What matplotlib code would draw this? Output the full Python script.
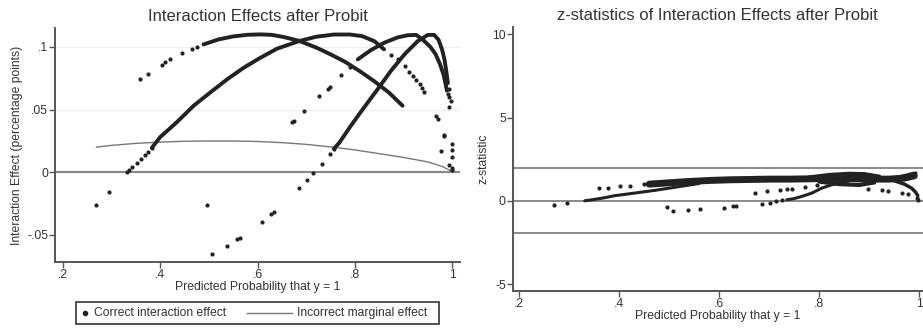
import matplotlib
matplotlib.use("Agg")
import matplotlib.pyplot as plt
from matplotlib.lines import Line2D
from matplotlib.patches import Rectangle

plt.rcParams['font.family'] = ['Liberation Sans', 'DejaVu Sans']

# ---- left panel: interaction effect vs predicted probability ----
# sparse dots
dots_x = [0.269, 0.295, 0.331, 0.336, 0.342, 0.352, 0.360, 0.369, 0.376, 0.383,
          0.359, 0.376, 0.403, 0.410, 0.421, 0.445, 0.465, 0.476,
          0.874, 0.888, 0.902, 0.912, 0.919, 0.926, 0.933, 0.938, 0.943,
          0.671, 0.675, 0.695, 0.726, 0.744, 0.748, 0.771, 0.790,
          0.496, 0.507, 0.538, 0.558, 0.564, 0.610, 0.628, 0.634, 0.685, 0.701,
          0.713, 0.732, 0.748, 0.757,
          0.994, 0.998, 0.994, 0.967, 0.970, 0.984, 1.000, 1.000, 1.000, 0.994,
          0.999, 1.000, 0.976, 0.983, 0.991, 0.993]
dots_y = [-0.0261, -0.0156, 0.0000, 0.0020, 0.0045, 0.0074, 0.0105, 0.0135, 0.0165, 0.0195,
          0.0740, 0.0782, 0.0856, 0.0882, 0.0905, 0.0950, 0.0984, 0.1000,
          0.0935, 0.0900, 0.0847, 0.0800, 0.0768, 0.0735, 0.0703, 0.0670, 0.0636,
          0.0398, 0.0412, 0.0491, 0.0604, 0.0663, 0.0683, 0.0774, 0.0840,
          -0.0261, -0.0652, -0.0586, -0.0533, -0.0525, -0.0398, -0.0333, -0.0314, -0.0129, -0.0063,
          -0.0010, 0.0069, 0.0143, 0.0188,
          0.0596, 0.0570, 0.0517, 0.0451, 0.0425, 0.0293, 0.0227, 0.0174, 0.0121, 0.0055,
          0.0030, 0.0016, 0.0166, 0.0288, 0.0620, 0.0660]

# dense runs of points (look like thick curves)
curve_a_x = [0.489, 0.52, 0.55, 0.58, 0.606, 0.63, 0.654, 0.685, 0.72, 0.75, 0.78, 0.81, 0.84, 0.87, 0.898]
curve_a_y = [0.1019, 0.1059, 0.1083, 0.1096, 0.1099, 0.1095, 0.1078, 0.1048, 0.0995, 0.0940, 0.0880, 0.0806, 0.0725, 0.0635, 0.0530]

curve_b_x = [0.383, 0.40, 0.434, 0.469, 0.503, 0.538, 0.572, 0.606, 0.64, 0.685, 0.72, 0.757, 0.79, 0.815, 0.84, 0.86]
curve_b_y = [0.0195, 0.0280, 0.0398, 0.0531, 0.0636, 0.0742, 0.0834, 0.0913, 0.0985, 0.1045, 0.1080, 0.1098, 0.1098, 0.1085, 0.1045, 0.0980]

curve_c_x = [0.806, 0.833, 0.86, 0.888, 0.908, 0.926, 0.94, 0.955, 0.966, 0.975, 0.982, 0.986, 0.989]
curve_c_y = [0.0900, 0.0974, 0.1032, 0.1075, 0.1092, 0.1095, 0.1055, 0.1000, 0.0940, 0.0860, 0.0780, 0.0710, 0.0650]

curve_d_x = [0.757, 0.768, 0.792, 0.819, 0.847, 0.874, 0.902, 0.929, 0.95, 0.963, 0.972, 0.979, 0.984, 0.988, 0.991]
curve_d_y = [0.0188, 0.0235, 0.0372, 0.0517, 0.0663, 0.0808, 0.0940, 0.1045, 0.1095, 0.1095, 0.1055, 0.0980, 0.0900, 0.0800, 0.0710]

# incorrect marginal effect
marg_x = [0.269, 0.30, 0.35, 0.40, 0.45, 0.50, 0.55, 0.60, 0.65, 0.70, 0.75, 0.80, 0.85, 0.90, 0.95, 0.98, 1.0]
marg_y = [0.0200, 0.0214, 0.0230, 0.0240, 0.0247, 0.0249, 0.0249, 0.0245, 0.0236, 0.0222, 0.0202, 0.0178, 0.0148, 0.0118, 0.0082, 0.0045, 0.0005]

# ---- right panel: z-statistics ----
zdots_x = [0.269, 0.296, 0.360, 0.378, 0.401, 0.421, 0.449, 0.495, 0.507, 0.537, 0.561,
           0.610, 0.628, 0.634, 0.671, 0.695, 0.721, 0.735, 0.745, 0.771, 0.795,
           0.685, 0.701, 0.713, 0.725,
           0.898, 0.925, 0.938, 0.965, 0.978, 0.995, 0.998]
zdots_y = [-0.24, -0.16, 0.74, 0.76, 0.90, 0.90, 0.98, -0.40, -0.60, -0.54, -0.50,
           -0.42, -0.34, -0.30, 0.44, 0.56, 0.62, 0.70, 0.70, 0.82, 0.96,
           -0.20, -0.12, -0.04, 0.04,
           0.70, 0.62, 0.56, 0.46, 0.42, 0.16, 0.06]

zlow_x = [0.331, 0.35, 0.37, 0.39, 0.41, 0.43, 0.45, 0.47, 0.50, 0.53, 0.56]
zlow_y = [0.00, 0.08, 0.18, 0.30, 0.38, 0.46, 0.54, 0.62, 0.76, 0.90, 1.04]

zband_x = [0.46, 0.50, 0.54, 0.58, 0.62, 0.66, 0.70, 0.74, 0.78, 0.82, 0.86, 0.90, 0.94, 0.97, 0.99]
zband_y = [1.00, 1.08, 1.16, 1.22, 1.26, 1.28, 1.30, 1.30, 1.32, 1.34, 1.34, 1.30, 1.30, 1.36, 1.50]

zup_x = [0.78, 0.82, 0.86, 0.89, 0.92]
zup_y = [1.40, 1.55, 1.62, 1.60, 1.45]
zdown_x = [0.80, 0.84, 0.88, 0.91]
zdown_y = [1.15, 1.00, 0.95, 1.10]
zfan_top_x = [0.95, 0.97, 0.985, 0.993]
zfan_top_y = [1.38, 1.50, 1.62, 1.66]
zfan_bot_x = [0.95, 0.97, 0.985, 0.993, 0.997]
zfan_bot_y = [1.20, 1.00, 0.75, 0.50, 0.30]

zrise_x = [0.735, 0.748, 0.765, 0.785, 0.805, 0.825, 0.845, 0.86]
zrise_y = [0.06, 0.12, 0.26, 0.46, 0.76, 0.96, 1.10, 1.20]

xticks = [0.2, 0.4, 0.6, 0.8, 1.0]
xtick_labels = ['.2', '.4', '.6', '.8', '1']
left_yticks = [-0.05, 0, 0.05, 0.1]
left_ytick_labels = ['-.05', '0', '.05', '.1']
right_yticks = [-5, 0, 5, 10]
right_ytick_labels = ['-5', '0', '5', '10']
legend_labels = ['Correct interaction effect', 'Incorrect marginal effect']

DOT = '#222222'
TXT = '#333333'
AX = '#555555'
FS = 8.7

fig = plt.figure(figsize=(9.23, 3.29), dpi=100)
ax1 = fig.add_axes([0.0596, 0.2036, 0.4388, 0.7113])
ax2 = fig.add_axes([0.5555, 0.1155, 0.4445, 0.8025])

for ax in (ax1, ax2):
    for s in ('top', 'right'):
        ax.spines[s].set_visible(False)
    for s in ('left', 'bottom'):
        ax.spines[s].set_color(AX)
        ax.spines[s].set_linewidth(1.4)
    ax.tick_params(colors=AX, labelcolor=TXT, labelsize=FS, length=4, width=1, pad=1)
    ax.set_xticks(xticks)
    ax.set_xticklabels(xtick_labels)

# left panel
ax1.set_xlim(0.184, 1.016)
ax1.set_ylim(-0.0716, 0.115)
ax1.set_yticks(left_yticks)
ax1.set_yticklabels(left_ytick_labels)
for g in (0.05, 0.1):
    ax1.axhline(g, color='#eeeeee', lw=0.8, zorder=0)
ax1.axhline(0, color='#888888', lw=1.5, zorder=1)
ax1.plot(marg_x, marg_y, color='#777777', lw=1.0, zorder=2)
for cx, cy in ((curve_a_x, curve_a_y), (curve_b_x, curve_b_y),
               (curve_c_x, curve_c_y), (curve_d_x, curve_d_y)):
    ax1.plot(cx, cy, color=DOT, lw=2.8, solid_capstyle='round', zorder=3)
ax1.scatter(dots_x, dots_y, s=9, color=DOT, zorder=3, linewidths=0)
ax1.set_title('Interaction Effects after Probit', fontsize=12, color=TXT, pad=5)
ax1.set_xlabel('Predicted Probability that y = 1', fontsize=FS, color=TXT, labelpad=0)
ax1.set_ylabel('Interaction Effect (percentage points)', fontsize=FS, color=TXT, labelpad=3)

# right panel
ax2.set_xlim(0.187, 1.0074)
ax2.set_ylim(-5.42, 10.44)
ax2.set_yticks(right_yticks)
ax2.set_yticklabels(right_ytick_labels)
for h in (-1.96, 0, 1.96):
    ax2.axhline(h, color='#777777', lw=1.2, zorder=1)
ax2.plot(zband_x, zband_y, color=DOT, lw=5, solid_capstyle='round', zorder=3)
for zx, zy, w in ((zlow_x, zlow_y, 2.2), (zup_x, zup_y, 3), (zdown_x, zdown_y, 3),
                  (zfan_top_x, zfan_top_y, 2.5), (zfan_bot_x, zfan_bot_y, 2.5),
                  (zrise_x, zrise_y, 2.2)):
    ax2.plot(zx, zy, color=DOT, lw=w, solid_capstyle='round', zorder=3)
ax2.scatter(zdots_x, zdots_y, s=9, color=DOT, zorder=3, linewidths=0)
ax2.set_title('z-statistics of Interaction Effects after Probit', fontsize=12, color=TXT, pad=5)
ax2.set_xlabel('Predicted Probability that y = 1', fontsize=FS, color=TXT, labelpad=0)
ax2.set_ylabel('z-statistic', fontsize=FS, color=TXT, labelpad=2)

# legend box below the left panel
fig.add_artist(Rectangle((0.0823, 0.0152), 0.3933, 0.0669, transform=fig.transFigure,
                         fill=False, edgecolor='#333333', lw=1.2))
fig.add_artist(Line2D([0.0921], [0.0486], marker='o', ms=3, color=DOT, lw=0,
                      transform=fig.transFigure))
fig.text(0.1018, 0.0486, legend_labels[0], fontsize=FS, color=TXT, va='center', ha='left')
fig.add_artist(Line2D([0.2676, 0.3164], [0.0486, 0.0486], color='#777777', lw=1.0,
                      transform=fig.transFigure))
fig.text(0.3218, 0.0486, legend_labels[1], fontsize=FS, color=TXT, va='center', ha='left')

fig.savefig('out.png', dpi=100)
